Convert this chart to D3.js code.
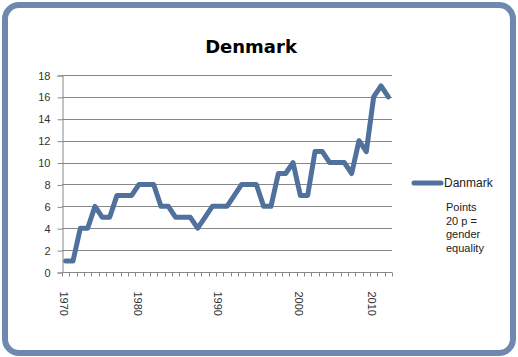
<!DOCTYPE html>
<html>
<head>
<meta charset="utf-8">
<script src="https://cdn.jsdelivr.net/npm/d3@7"></script>
<style>
  html, body { margin: 0; padding: 0; background: #fff; }
  svg { display: block; }
</style>
</head>
<body>
<script>
// ---- data ----
const values = [1,1,4,4,6,5,5,7,7,7,8,8,8,6,6,5,5,5,4,5,6,6,6,7,8,8,8,6,6,9,9,10,7,7,11,11,10,10,10,9,12,11,16,17,16];
const categories = values.map((v, i) => i);
const tickLabels = ["1970", "1980", "1990", "2000", "2010"];
const tickLabelIndex = [0, 10, 21, 32, 42];
const yTicks = [0, 2, 4, 6, 8, 10, 12, 14, 16, 18];
const seriesName = "Danmark";
const noteLines = ["Points", "20 p =", "gender", "equality"];
const title = "Denmark";

const W = 518, H = 357;
const svg = d3.select("body").append("svg").attr("width", W).attr("height", H);

// outer rounded frame
svg.append("rect")
  .attr("x", 5).attr("y", 5).attr("width", 508).attr("height", 348)
  .attr("rx", 14).attr("ry", 14)
  .attr("fill", "#fff").attr("stroke", "#6f89ae").attr("stroke-width", 6);

// title
svg.append("text")
  .attr("x", 251).attr("y", 53)
  .attr("text-anchor", "middle")
  .attr("font-family", "DejaVu Sans")
  .attr("font-weight", "bold")
  .attr("font-size", 18)
  .attr("fill", "#000")
  .text(title);

const plot = { left: 62, right: 392, top: 75, bottom: 272 };

const x = d3.scaleBand().domain(categories).range([plot.left, plot.right]).padding(0);
const y = d3.scaleLinear().domain([0, 18]).range([plot.bottom, plot.top]);

// gridlines
svg.append("g")
  .selectAll("line").data(yTicks.filter(d => d > 0)).join("line")
  .attr("x1", plot.left).attr("x2", plot.right)
  .attr("y1", d => Math.round(y(d)) + 0.5).attr("y2", d => Math.round(y(d)) + 0.5)
  .attr("stroke", "#888").attr("stroke-width", 1);

// y axis
const yAxis = d3.axisLeft(y).tickValues(yTicks).tickSize(5).tickPadding(7);
const gy = svg.append("g").attr("transform", `translate(${plot.left + 0.5},0.5)`).call(yAxis);
gy.select(".domain").attr("stroke", "#888");
gy.selectAll(".tick line").attr("stroke", "#888");
gy.selectAll(".tick text")
  .attr("font-family", "Liberation Sans, Arial, sans-serif")
  .attr("font-size", 11).attr("fill", "#333");

// x axis with ticks between categories
const boundaries = categories.concat([categories.length]);
const gx = svg.append("g").attr("transform", `translate(0,${Math.round(plot.bottom) + 0.5})`);
gx.append("line")
  .attr("x1", plot.left).attr("x2", plot.right)
  .attr("stroke", "#888");
gx.selectAll("line.tk").data(boundaries).join("line")
  .attr("class", "tk")
  .attr("x1", d => Math.round(plot.left + d * x.bandwidth()) + 0.5)
  .attr("x2", d => Math.round(plot.left + d * x.bandwidth()) + 0.5)
  .attr("y1", 0).attr("y2", 4)
  .attr("stroke", "#888");
gx.selectAll("text").data(tickLabels).join("text")
  .attr("transform", (d, i) => `translate(${x(tickLabelIndex[i]) + x.bandwidth() / 2 - 1.5},19) rotate(90)`)
  .attr("dy", "0.35em")
  .attr("text-anchor", "start")
  .attr("font-family", "Liberation Sans, Arial, sans-serif")
  .attr("font-size", 11).attr("fill", "#333")
  .text(d => d);

// line
const lineColor = "#50719b";
const line = d3.line()
  .x((d, i) => x(categories[i]) + x.bandwidth() / 2)
  .y(d => y(d));
svg.append("path")
  .datum(values)
  .attr("d", line)
  .attr("fill", "none")
  .attr("stroke", lineColor)
  .attr("stroke-width", 5)
  .attr("stroke-linejoin", "round")
  .attr("stroke-linecap", "round");

// legend
svg.append("line")
  .attr("x1", 414).attr("x2", 441).attr("y1", 183).attr("y2", 183)
  .attr("stroke", lineColor).attr("stroke-width", 5).attr("stroke-linecap", "round");
svg.append("text")
  .attr("x", 444).attr("y", 187)
  .attr("font-family", "Liberation Sans, Arial, sans-serif")
  .attr("font-size", 12).attr("fill", "#222")
  .text(seriesName);
svg.append("g").selectAll("text").data(noteLines).join("text")
  .attr("x", 446).attr("y", (d, i) => 211 + i * 13.5)
  .attr("font-family", "Liberation Sans, Arial, sans-serif")
  .attr("font-size", 11).attr("fill", "#222")
  .text(d => d);
</script>
</body>
</html>
